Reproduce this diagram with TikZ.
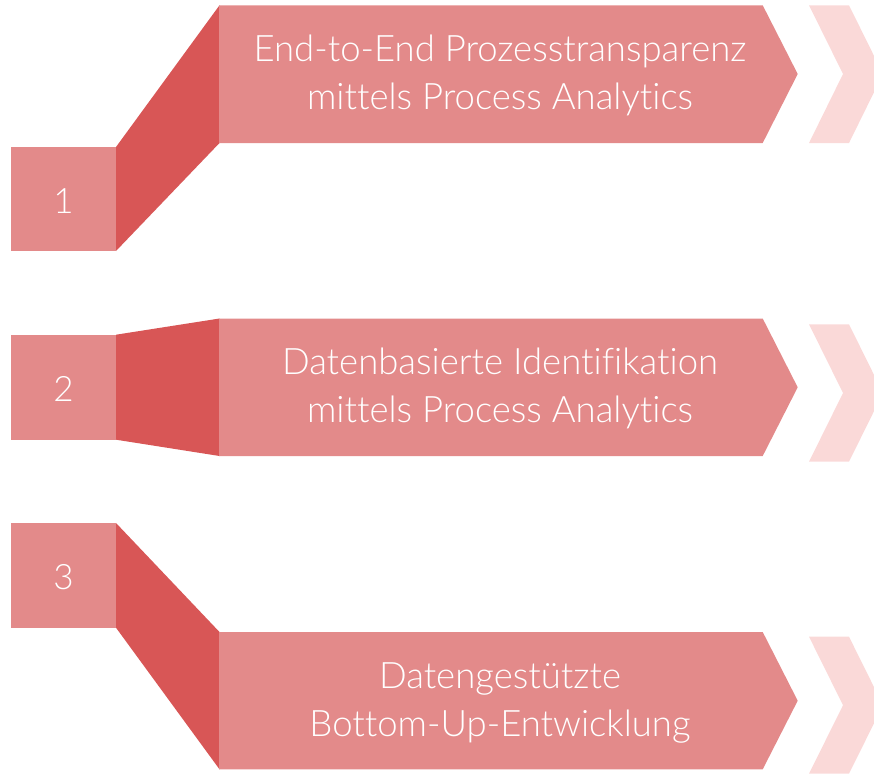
\documentclass[tikz,border=0pt]{standalone}
\usepackage{fontspec}
\setmainfont{Lato}[UprightFont={* Light}, Ligatures={NoCommon}]
\definecolor{boxc}{HTML}{E38A8A}
\definecolor{darkc}{HTML}{D85656}
\definecolor{chevc}{HTML}{FAD9D8}
\tikzset{
  boxfill/.style={fill=boxc},
  linkfill/.style={fill=darkc},
  chevfill/.style={fill=chevc},
  label/.style={text=white, align=center, font=\fontsize{36.5}{48}\selectfont, inner sep=0pt},
  numlabel/.style={text=white, font=\fontsize{35}{40}\selectfont, inner sep=0pt}
}
\begin{document}
\begin{tikzpicture}[x=1pt,y=-1pt]
\useasboundingbox (0,0) rectangle (874,773);
\clip (0,0) rectangle (874,773);
% ---- row 1
\fill[boxfill] (11,147) rectangle (116,251);
\fill[linkfill] (116,147) -- (219.5,5.3) -- (219.5,143) -- (116,251) -- cycle;
\fill[boxfill] (219,5.3) -- (762.7,5.3) -- (797.7,74) -- (762.7,143) -- (219,143) -- cycle;
\fill[chevfill] (809,5.3) -- (849,5.3) -- (883,74) -- (849,143) -- (809,143) -- (843,74) -- cycle;
\node[numlabel] (n1) at (63.5,201) {1};
\node[label] (t1) at (500,75) {End-to-End Prozesstransparenz\\mittels Process Analytics};
% ---- row 2
\fill[boxfill] (11,334.7) rectangle (116,439.7);
\fill[linkfill] (116,334.7) -- (219.5,318.5) -- (219.5,456) -- (116,439.7) -- cycle;
\fill[boxfill] (219,318.5) -- (762.7,318.5) -- (797.7,387.3) -- (762.7,456) -- (219,456) -- cycle;
\fill[chevfill] (809,324.3) -- (849,324.3) -- (883,393) -- (849,461.7) -- (809,461.7) -- (843,393) -- cycle;
\node[numlabel] (n2) at (63.5,389) {2};
\node[label] (t2) at (500,388.3) {Datenbasierte Identifikation\\mittels Process Analytics};
% ---- row 3
\fill[boxfill] (11,523) rectangle (116,627.7);
\fill[linkfill] (116,523) -- (219.5,632) -- (219.5,769.3) -- (116,627.7) -- cycle;
\fill[boxfill] (219,632) -- (762.7,632) -- (797.7,700.7) -- (762.7,769.3) -- (219,769.3) -- cycle;
\fill[chevfill] (809,636.7) -- (849,636.7) -- (883,705.2) -- (849,773.7) -- (809,773.7) -- (843,705.2) -- cycle;
\node[numlabel] (n3) at (63.5,577) {3};
\node[label] (t3) at (500,703) {Datengestützte\\Bottom-Up-Entwicklung};
\end{tikzpicture}
\end{document}
